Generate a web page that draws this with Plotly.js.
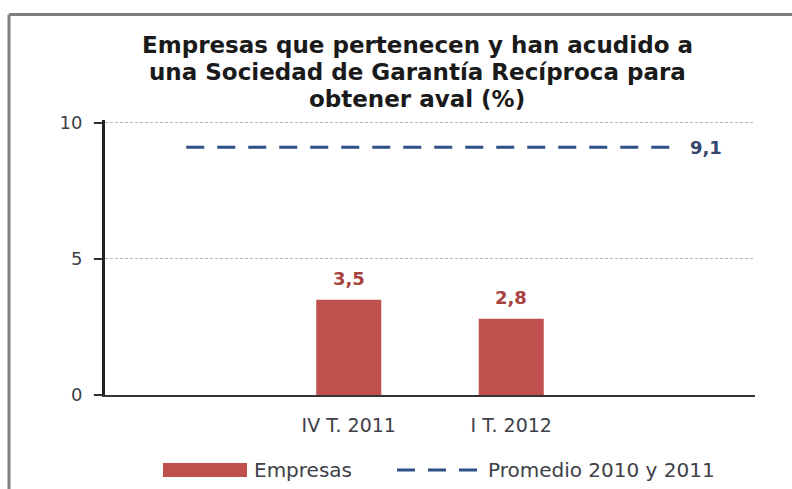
<!DOCTYPE html>
<html>
<head>
<meta charset="utf-8">
<script src="https://cdn.plot.ly/plotly-3.0.1.min.js"></script>
<style>
  html, body { margin: 0; padding: 0; background: #fff; }
  #chart { width: 792px; height: 489px; }
</style>
</head>
<body>
<div id="chart"></div>
<script>
// ---- data ----
const categories = ['', 'IV T. 2011', 'I T. 2012', ''];
const empresas = [null, 3.5, 2.8, null];
const empresasLabels = ['', '3,5', '2,8', ''];
const promedio = [9.1, 9.1, 9.1, 9.1];
const promedioLabel = '9,1';
const yTicks = [0, 5, 10];
const titleLines = ['Empresas que pertenecen y han acudido a', 'una Sociedad de Garantía Recíproca para', 'obtener aval (%)'];
const seriesNames = ['Empresas', 'Promedio 2010 y 2011'];

const FONT = 'DejaVu Sans, sans-serif';
const xs = categories.map((c, i) => i);

// plot area in pixels: x 105..755, y(0)=395, y(10)=123
const PL = 105, PR = 755, Y0 = 395, YMAX = 10.1, PXU = 27.2;
const PT = Y0 - PXU * YMAX;
const PH = Y0 - PT;
const px2x = p => (p - PL) / (PR - PL);
const px2y = p => (Y0 - p) / PH;

const barTrace = {
  type: 'bar', x: xs, y: empresas, name: seriesNames[0],
  marker: {color: '#C0504D'}, width: 0.4, hoverinfo: 'skip'
};
const lineTrace = {
  type: 'scatter', mode: 'lines', x: xs, y: promedio, name: seriesNames[1],
  line: {color: '#2E5185', width: 3, dash: '18px,13px'}, hoverinfo: 'skip'
};

const annotations = [];
const titleY = [45, 72, 99];
titleLines.forEach((t, i) => {
  annotations.push({x: px2x(417), y: px2y(titleY[i]), xref: 'paper', yref: 'paper',
    text: '<b>' + t + '</b>', showarrow: false, xanchor: 'center', yanchor: 'middle',
    font: {family: FONT, size: 23, color: '#1a1a1a'}});
});
xs.forEach((x, i) => {
  if (empresas[i] != null) {
    annotations.push({x: x, y: empresas[i], xref: 'x', yref: 'y', text: '<b>' + empresasLabels[i] + '</b>',
      showarrow: false, yanchor: 'bottom', yshift: 9, font: {family: FONT, size: 18, color: '#A8433F'}});
  }
});
annotations.push({x: xs[xs.length - 1], y: promedio[promedio.length - 1], xref: 'x', yref: 'y',
  text: '<b>' + promedioLabel + '</b>', showarrow: false, xanchor: 'left', xshift: 14,
  font: {family: FONT, size: 18, color: '#34466E'}});
annotations.push({x: px2x(252), y: px2y(470), xref: 'paper', yref: 'paper', text: seriesNames[0], showarrow: false,
  xanchor: 'left', yanchor: 'middle', font: {family: FONT, size: 20, color: '#404048'}});
annotations.push({x: px2x(486), y: px2y(470), xref: 'paper', yref: 'paper', text: seriesNames[1], showarrow: false,
  xanchor: 'left', yanchor: 'middle', font: {family: FONT, size: 20, color: '#404048'}});

const shapes = [
  {type: 'line', xref: 'paper', yref: 'paper', x0: px2x(9), x1: px2x(9), y0: px2y(15), y1: px2y(520), line: {color: '#7F7F7F', width: 3}},
  {type: 'line', xref: 'paper', yref: 'paper', x0: px2x(9), x1: px2x(820), y0: px2y(15), y1: px2y(15), line: {color: '#7F7F7F', width: 3}},
  {type: 'rect', xref: 'paper', yref: 'paper', x0: px2x(163), x1: px2x(247), y0: px2y(463), y1: px2y(477), fillcolor: '#C0504D', line: {width: 0}},
  {type: 'line', xref: 'paper', yref: 'paper', x0: px2x(397), x1: px2x(480), y0: px2y(470), y1: px2y(470), line: {color: '#2E5185', width: 3, dash: '18px,13px'}}
];

const layout = {
  width: 792, height: 489,
  margin: {l: PL, r: 792 - PR, t: PT, b: 489 - Y0},
  paper_bgcolor: '#fff', plot_bgcolor: '#fff',
  showlegend: false,
  xaxis: {
    range: [-0.5, 3.5], tickvals: xs, ticktext: categories, showgrid: false, zeroline: false,
    showline: true, linecolor: '#333', linewidth: 2, ticks: '', fixedrange: true, ticklabelstandoff: 12,
    tickfont: {family: FONT, size: 19, color: '#404048'}
  },
  yaxis: {
    range: [0, YMAX], tickvals: yTicks, ticktext: yTicks.map(String), showgrid: true, gridcolor: '#B5B5B5', griddash: '3px,2px', gridwidth: 1,
    zeroline: false, showline: true, linecolor: '#222', linewidth: 3, ticks: 'outside', ticklen: 8, tickwidth: 2, tickcolor: '#333',
    ticklabelstandoff: 8,
    tickfont: {family: FONT, size: 18, color: '#404048'}, fixedrange: true
  },
  annotations: annotations,
  shapes: shapes
};

Plotly.newPlot('chart', [barTrace, lineTrace], layout, {displayModeBar: false, staticPlot: true});
</script>
</body>
</html>
